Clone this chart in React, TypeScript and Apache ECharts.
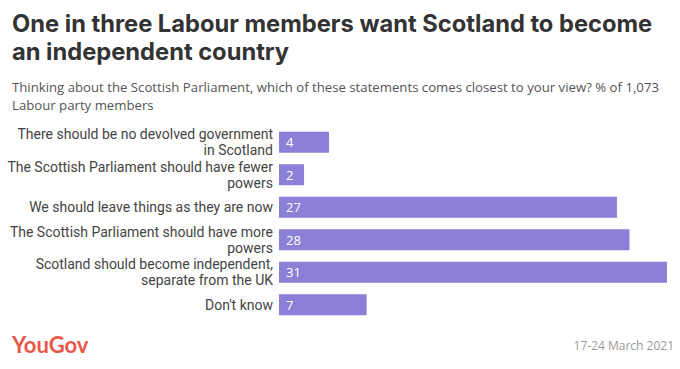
import React, { useEffect, useRef } from "react";
import * as echarts from "echarts";

const categories = [
  "There should be no devolved government\nin Scotland",
  "The Scottish Parliament should have fewer\npowers",
  "We should leave things as they are now",
  "The Scottish Parliament should have more\npowers",
  "Scotland should become independent,\nseparate from the UK",
  "Don't know",
];
const values = [4, 2, 27, 28, 31, 7];

const titleText = "One in three Labour members want Scotland to become\nan independent country";
const subtitleText =
  "Thinking about the Scottish Parliament, which of these statements comes closest to your view? % of 1,073\nLabour party members";
const dateText = "17-24 March 2021";
const logoText = "YouGov";

export default function App() {
  const ref = useRef<HTMLDivElement>(null);
  useEffect(() => {
    if (!ref.current) return;
    const chart = echarts.init(ref.current, null, { renderer: "svg" });
    const font = "'Open Sans', Lato, sans-serif";
    const labelFont = "Roboto, 'Open Sans', sans-serif";
    chart.setOption({
      animation: false,
      backgroundColor: "#ffffff",
      textStyle: { fontFamily: font },
      title: [
        {
          text: titleText,
          left: 12,
          top: 9,
          padding: 0,
          textStyle: { fontSize: 23.7, fontWeight: "bold", color: "#333333", lineHeight: 28, fontFamily: "Inter, 'Open Sans', sans-serif" },
        },
        {
          text: subtitleText,
          left: 12,
          top: 78,
          padding: 0,
          textStyle: { fontSize: 13.2, fontWeight: "normal", color: "#555555", lineHeight: 18, fontFamily: font },
        },
        {
          text: logoText,
          left: 12,
          top: 333,
          padding: 0,
          textStyle: { fontSize: 22, fontWeight: "bold", color: "#e8574a", fontFamily: "Lato, sans-serif" },
        },
        {
          text: dateText,
          right: 6,
          top: 339,
          padding: 0,
          textStyle: { fontSize: 12, fontWeight: "normal", color: "#999999", fontFamily: font },
        },
      ],
      grid: { left: 279, right: 13, top: 126, bottom: 48, containLabel: false },
      xAxis: {
        type: "value",
        min: 0,
        max: 31,
        show: false,
      },
      yAxis: {
        type: "category",
        data: categories,
        inverse: true,
        axisLine: { show: false },
        axisTick: { show: false },
        splitLine: { show: false },
        axisLabel: {
          fontSize: 14,
          lineHeight: 16,
          color: "#444444",
          margin: 6,
          align: "right",
          fontFamily: labelFont,
        },
      },
      series: [
        {
          type: "bar",
          data: values,
          barWidth: 21,
          itemStyle: { color: "#8b7fd8" },
          label: {
            show: true,
            position: "insideLeft",
            distance: 7,
            color: "#ffffff",
            fontSize: 13,
            fontFamily: font,
          },
        },
      ],
    });
    return () => chart.dispose();
  }, []);
  return (
    <div
      ref={ref}
      style={{ position: "fixed", left: 0, top: 0, width: 680, height: 369 }}
    />
  );
}
